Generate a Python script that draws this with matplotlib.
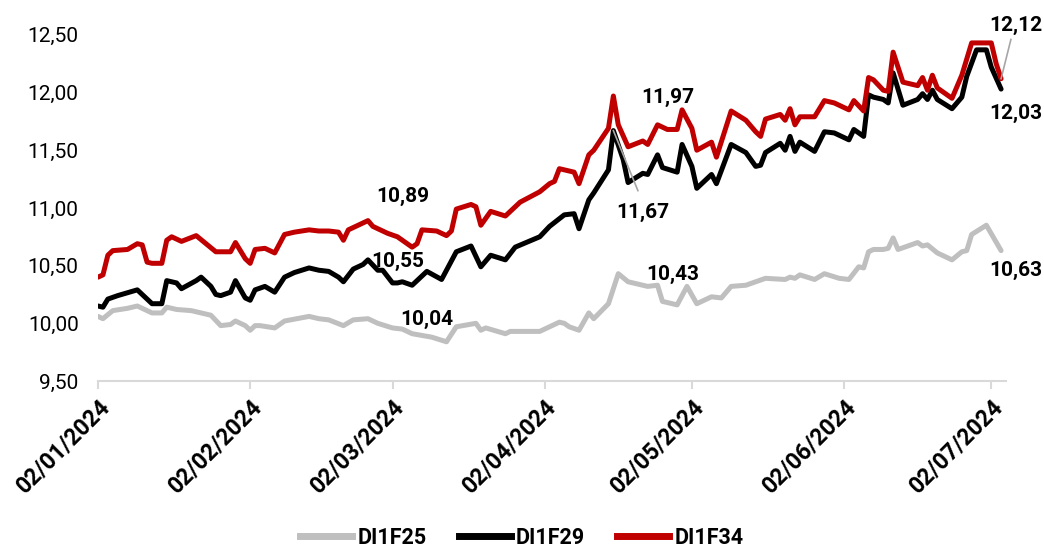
import matplotlib
matplotlib.use("Agg")
import matplotlib.pyplot as plt
import matplotlib.dates as mdates
import matplotlib.transforms as mtransforms
from matplotlib.lines import Line2D
import pandas as pd

plt.rcParams['font.family'] = ['Roboto', 'DejaVu Sans']

# DI1F25 futures rate (% a.a.)
f25_dates = [
    "2024-01-02", "2024-01-03", "2024-01-05", "2024-01-08", "2024-01-10", "2024-01-13",
    "2024-01-15", "2024-01-16", "2024-01-18", "2024-01-21", "2024-01-23", "2024-01-25",
    "2024-01-27", "2024-01-29", "2024-01-30", "2024-02-01", "2024-02-02", "2024-02-03",
    "2024-02-04", "2024-02-07", "2024-02-09", "2024-02-14", "2024-02-16", "2024-02-18",
    "2024-02-21", "2024-02-23", "2024-02-26", "2024-02-28", "2024-03-02", "2024-03-04",
    "2024-03-06", "2024-03-10", "2024-03-13", "2024-03-15", "2024-03-19", "2024-03-20",
    "2024-03-21", "2024-03-25", "2024-03-26", "2024-04-01", "2024-04-05", "2024-04-06",
    "2024-04-07", "2024-04-09", "2024-04-11", "2024-04-12", "2024-04-15", "2024-04-17",
    "2024-04-19", "2024-04-23", "2024-04-25", "2024-04-26", "2024-04-29", "2024-05-01",
    "2024-05-03", "2024-05-06", "2024-05-08", "2024-05-10", "2024-05-13", "2024-05-17",
    "2024-05-21", "2024-05-22", "2024-05-23", "2024-05-24", "2024-05-27", "2024-05-29",
    "2024-06-01", "2024-06-03", "2024-06-05", "2024-06-06", "2024-06-07", "2024-06-08",
    "2024-06-10", "2024-06-11", "2024-06-12", "2024-06-13", "2024-06-17", "2024-06-18",
    "2024-06-19", "2024-06-21", "2024-06-24", "2024-06-26", "2024-06-27", "2024-06-28",
    "2024-07-01", "2024-07-04",
]
f25_values = [
    10.06, 10.04, 10.11, 10.13, 10.15, 10.09,
    10.09, 10.14, 10.12, 10.11, 10.09, 10.07,
    9.98, 9.99, 10.02, 9.98, 9.94, 9.98,
    9.98, 9.96, 10.02, 10.06, 10.04, 10.03,
    9.98, 10.03, 10.04, 10.00, 9.96, 9.95,
    9.91, 9.88, 9.84, 9.97, 10.00, 9.94,
    9.96, 9.91, 9.93, 9.93, 10.01, 10.00,
    9.97, 9.94, 10.09, 10.04, 10.17, 10.43,
    10.36, 10.32, 10.33, 10.19, 10.16, 10.32,
    10.17, 10.23, 10.22, 10.32, 10.33, 10.39,
    10.38, 10.40, 10.39, 10.42, 10.38, 10.43,
    10.39, 10.38, 10.49, 10.48, 10.62, 10.64,
    10.64, 10.65, 10.74, 10.64, 10.70, 10.67,
    10.68, 10.61, 10.55, 10.62, 10.63, 10.77,
    10.85, 10.63,
]

# DI1F29 futures rate (% a.a.)
f29_dates = [
    "2024-01-02", "2024-01-03", "2024-01-04", "2024-01-06", "2024-01-10", "2024-01-13",
    "2024-01-15", "2024-01-16", "2024-01-18", "2024-01-19", "2024-01-22", "2024-01-23",
    "2024-01-25", "2024-01-26", "2024-01-27", "2024-01-29", "2024-01-30", "2024-02-01",
    "2024-02-02", "2024-02-03", "2024-02-05", "2024-02-07", "2024-02-09", "2024-02-11",
    "2024-02-14", "2024-02-16", "2024-02-18", "2024-02-20", "2024-02-21", "2024-02-23",
    "2024-02-25", "2024-02-26", "2024-02-28", "2024-02-29", "2024-03-02", "2024-03-03",
    "2024-03-04", "2024-03-06", "2024-03-07", "2024-03-09", "2024-03-12", "2024-03-15",
    "2024-03-18", "2024-03-20", "2024-03-22", "2024-03-25", "2024-03-27", "2024-04-01",
    "2024-04-03", "2024-04-06", "2024-04-08", "2024-04-09", "2024-04-11", "2024-04-12",
    "2024-04-15", "2024-04-16", "2024-04-18", "2024-04-19", "2024-04-22", "2024-04-23",
    "2024-04-25", "2024-04-26", "2024-04-29", "2024-04-30", "2024-05-02", "2024-05-03",
    "2024-05-06", "2024-05-07", "2024-05-10", "2024-05-13", "2024-05-15", "2024-05-16",
    "2024-05-17", "2024-05-20", "2024-05-21", "2024-05-22", "2024-05-23", "2024-05-24",
    "2024-05-27", "2024-05-29", "2024-05-31", "2024-06-03", "2024-06-04", "2024-06-06",
    "2024-06-07", "2024-06-08", "2024-06-10", "2024-06-11", "2024-06-12", "2024-06-14",
    "2024-06-17", "2024-06-18", "2024-06-19", "2024-06-20", "2024-06-21", "2024-06-24",
    "2024-06-26", "2024-06-27", "2024-06-29", "2024-07-01", "2024-07-02", "2024-07-04",
]
f29_values = [
    10.15, 10.14, 10.21, 10.24, 10.29, 10.17,
    10.17, 10.37, 10.35, 10.30, 10.37, 10.40,
    10.32, 10.25, 10.24, 10.27, 10.37, 10.22,
    10.20, 10.29, 10.32, 10.27, 10.40, 10.44,
    10.48, 10.46, 10.45, 10.40, 10.36, 10.47,
    10.51, 10.55, 10.46, 10.46, 10.35, 10.35,
    10.36, 10.33, 10.37, 10.45, 10.38, 10.62,
    10.67, 10.49, 10.59, 10.55, 10.66, 10.75,
    10.84, 10.94, 10.95, 10.82, 11.07, 11.13,
    11.33, 11.67, 11.42, 11.22, 11.30, 11.29,
    11.46, 11.35, 11.31, 11.55, 11.36, 11.17,
    11.29, 11.21, 11.55, 11.48, 11.36, 11.37,
    11.48, 11.56, 11.50, 11.62, 11.49, 11.57,
    11.49, 11.66, 11.65, 11.59, 11.68, 11.62,
    11.98, 11.96, 11.94, 11.91, 12.17, 11.89,
    11.94, 11.99, 11.94, 12.02, 11.94, 11.86,
    11.96, 12.14, 12.37, 12.37, 12.22, 12.03,
]

# DI1F34 futures rate (% a.a.)
f34_dates = [
    "2024-01-02", "2024-01-03", "2024-01-04", "2024-01-05", "2024-01-08", "2024-01-10",
    "2024-01-11", "2024-01-12", "2024-01-13", "2024-01-15", "2024-01-16", "2024-01-17",
    "2024-01-19", "2024-01-22", "2024-01-24", "2024-01-26", "2024-01-29", "2024-01-30",
    "2024-02-01", "2024-02-02", "2024-02-03", "2024-02-05", "2024-02-07", "2024-02-09",
    "2024-02-11", "2024-02-14", "2024-02-16", "2024-02-18", "2024-02-20", "2024-02-21",
    "2024-02-22", "2024-02-24", "2024-02-26", "2024-02-27", "2024-03-01", "2024-03-03",
    "2024-03-04", "2024-03-06", "2024-03-07", "2024-03-08", "2024-03-11", "2024-03-13",
    "2024-03-14", "2024-03-15", "2024-03-18", "2024-03-19", "2024-03-20", "2024-03-22",
    "2024-03-25", "2024-03-28", "2024-04-01", "2024-04-03", "2024-04-04", "2024-04-05",
    "2024-04-08", "2024-04-09", "2024-04-11", "2024-04-12", "2024-04-15", "2024-04-16",
    "2024-04-17", "2024-04-19", "2024-04-22", "2024-04-23", "2024-04-25", "2024-04-27",
    "2024-04-29", "2024-04-30", "2024-05-02", "2024-05-03", "2024-05-06", "2024-05-07",
    "2024-05-10", "2024-05-13", "2024-05-15", "2024-05-16", "2024-05-17", "2024-05-20",
    "2024-05-21", "2024-05-22", "2024-05-23", "2024-05-24", "2024-05-27", "2024-05-29",
    "2024-05-31", "2024-06-03", "2024-06-04", "2024-06-06", "2024-06-07", "2024-06-08",
    "2024-06-10", "2024-06-11", "2024-06-12", "2024-06-14", "2024-06-17", "2024-06-18",
    "2024-06-19", "2024-06-20", "2024-06-21", "2024-06-24", "2024-06-26", "2024-06-28",
    "2024-07-02", "2024-07-03", "2024-07-04",
]
f34_values = [
    10.40, 10.42, 10.59, 10.63, 10.64, 10.69,
    10.68, 10.53, 10.52, 10.52, 10.72, 10.75,
    10.71, 10.76, 10.69, 10.62, 10.62, 10.70,
    10.56, 10.52, 10.64, 10.65, 10.61, 10.77,
    10.79, 10.81, 10.80, 10.80, 10.79, 10.72,
    10.81, 10.85, 10.89, 10.84, 10.78, 10.75,
    10.72, 10.66, 10.69, 10.81, 10.80, 10.76,
    10.80, 10.99, 11.03, 11.01, 10.85, 10.97,
    10.93, 11.05, 11.14, 11.21, 11.23, 11.34,
    11.31, 11.21, 11.46, 11.50, 11.69, 11.97,
    11.72, 11.53, 11.58, 11.55, 11.72, 11.68,
    11.68, 11.85, 11.69, 11.50, 11.57, 11.44,
    11.84, 11.76, 11.66, 11.62, 11.77, 11.81,
    11.76, 11.86, 11.72, 11.79, 11.79, 11.93,
    11.91, 11.85, 11.93, 11.84, 12.13, 12.11,
    12.02, 12.01, 12.35, 12.09, 12.06, 12.13,
    12.02, 12.15, 12.04, 11.95, 12.15, 12.43,
    12.43, 12.25, 12.12,
]

series_names = ["DI1F25", "DI1F29", "DI1F34"]
series_colors = ["#BFBFBF", "#000000", "#C00000"]

tick_dates = ["2024-01-02", "2024-02-02", "2024-03-02", "2024-04-02",
              "2024-05-02", "2024-06-02", "2024-07-02"]
y_ticks = [9.5, 10.0, 10.5, 11.0, 11.5, 12.0, 12.5]

fig = plt.figure(figsize=(10.44, 5.53), dpi=100)
ax = fig.add_axes([0.0939, 0.311, 0.8697, 0.626])

all_series = [(f25_dates, f25_values), (f29_dates, f29_values), (f34_dates, f34_values)]
for (d, v), name, color in zip(all_series, series_names, series_colors):
    ax.plot(pd.to_datetime(d), v, color=color, lw=3.6, label=name,
            solid_joinstyle="round", solid_capstyle="round")

ax.set_ylim(9.5, 12.5)
ax.set_xlim(pd.Timestamp("2024-01-02"), pd.Timestamp("2024-07-05"))
ax.set_yticks(y_ticks)
ax.set_yticklabels([f"{t:.2f}".replace(".", ",") for t in y_ticks], fontsize=15)

ticks = pd.to_datetime(tick_dates)
ax.set_xticks(ticks)
ax.set_xticklabels([t.strftime("%d/%m/%Y") for t in ticks], rotation=45,
                   ha="right", rotation_mode="anchor", fontsize=16.5, fontweight="bold")
offset = mtransforms.ScaledTranslation(9 / 72, -3 / 72, fig.dpi_scale_trans)
for lab in ax.get_xticklabels():
    lab.set_transform(lab.get_transform() + offset)

for side in ["left", "right", "top"]:
    ax.spines[side].set_visible(False)
ax.spines["bottom"].set_color("#D9D9D9")
ax.spines["bottom"].set_linewidth(1.5)
ax.tick_params(axis="x", direction="out", length=6, width=1.5, color="#D9D9D9", pad=4)
ax.tick_params(axis="y", length=0, pad=14)

# value labels
def label(date, y, text, ha="center"):
    ax.text(pd.Timestamp(date), y, text, ha=ha, va="center",
            fontsize=15, fontweight="bold", color="black")

label("2024-03-04", 11.10, "10,89")
label("2024-03-03", 10.54, "10,55")
label("2024-03-09", 10.03, "10,04")
label("2024-04-27", 11.96, "11,97")
label("2024-04-22", 10.96, "11,67")
label("2024-04-28", 10.42, "10,43")
label("2024-07-07", 12.58, "12,12")
label("2024-07-07", 11.82, "12,03")
label("2024-07-07", 10.46, "10,63")

# leader lines
ax.plot(pd.to_datetime(["2024-04-16", "2024-04-21"]), [11.67, 11.15],
        color="#A6A6A6", lw=1.2)
ax.plot(pd.to_datetime(["2024-07-04", "2024-07-06"]), [12.12, 12.46],
        color="#A6A6A6", lw=1.2, clip_on=False)

handles = [Line2D([], [], color=c, lw=5) for c in series_colors]
fig.legend(handles, series_names, loc="lower center", bbox_to_anchor=(0.5, -0.027),
           ncol=3, frameon=False, handlelength=2.4, handletextpad=0.25,
           columnspacing=1.5, prop={"size": 15.5, "weight": "bold"})

fig.savefig("out.png", dpi=100)
